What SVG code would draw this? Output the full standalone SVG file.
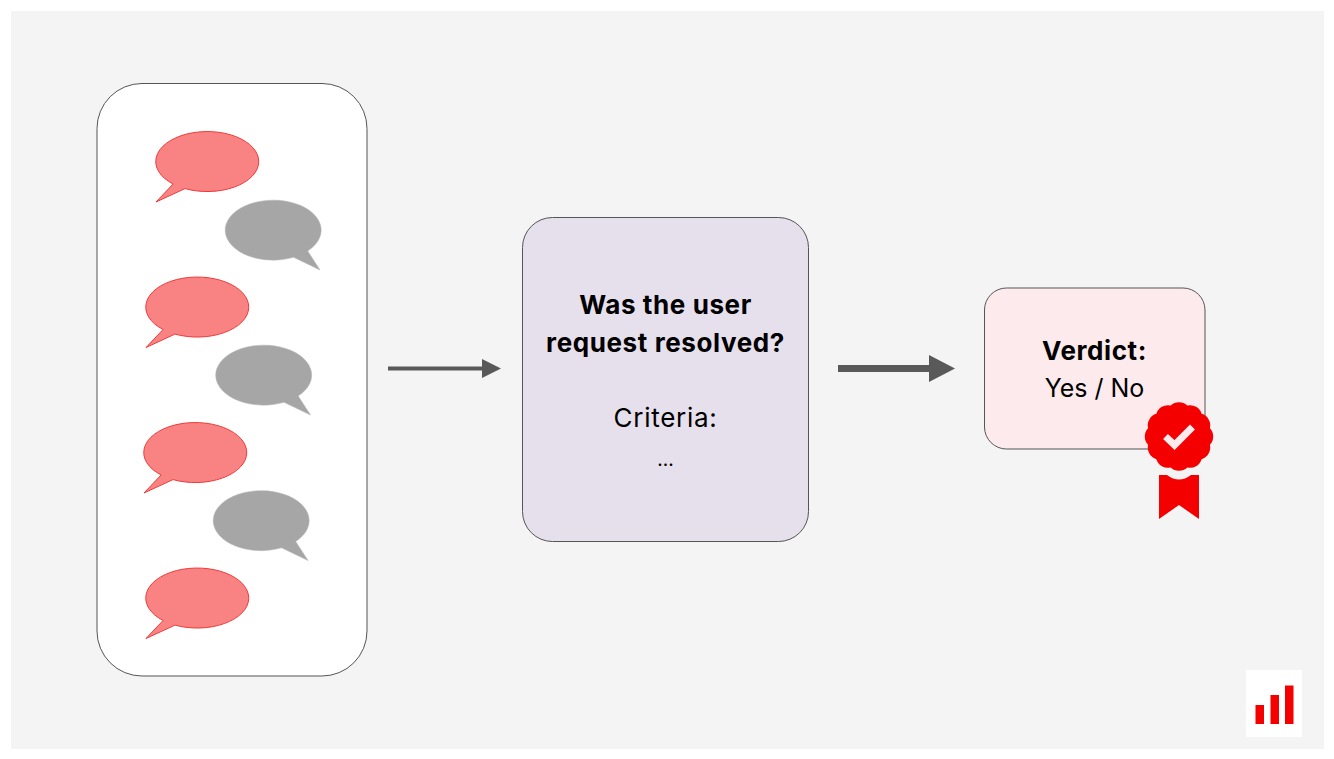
<svg xmlns="http://www.w3.org/2000/svg" width="1334" height="759" viewBox="0 0 1334 759">
<style>
.t{font-family:Inter,"Noto Sans","Liberation Sans",sans-serif;font-size:26px;fill:#000;text-anchor:middle}
.b{font-weight:700;letter-spacing:.6px}
.c{letter-spacing:.7px}
.card{stroke:#555;stroke-width:1}
.red{fill:#f98383;stroke:#f03a3a;stroke-width:1}
.gray{fill:#a6a6a6;stroke:#b4b4b4;stroke-width:.5}
.conn{fill:#595959;stroke:none}
.mark{fill:#f40000}
</style>
<defs>
<path id="rb" d="M-33.900 22.500 L-51 40.500 L-22 27.100 A51.500 30 0 1 0 -33.900 22.500 Z"/>
<path id="gb" d="M20 27.330 L46.500 40 L34.200 21 A48 30 0 1 0 20 27.330 Z"/>
</defs>
<rect width="1334" height="759" fill="#fff"/>
<rect x="11" y="11" width="1313" height="738" fill="#f4f4f4"/>
<g id="chat-panel">
<rect class="card" x="97" y="83.500" width="270" height="592.500" rx="45" fill="#fff"/>
<use href="#rb" class="red" x="207" y="161.500"/>
<use href="#gb" class="gray" x="273.500" y="230"/>
<use href="#rb" class="red" x="197" y="307"/>
<use href="#gb" class="gray" x="264" y="375"/>
<use href="#rb" class="red" x="195" y="452.500"/>
<use href="#gb" class="gray" x="261.500" y="520.500"/>
<use href="#rb" class="red" x="197" y="598"/>
</g>
<g id="connectors">
<path class="conn" d="M388 366.500H482V359L501 368.500L482 378V370.500H388Z"/>
<path class="conn" d="M838 365H929V355L955 368.500L929 382V372H838Z"/>
</g>
<g id="criteria-node">
<rect class="card" x="522.500" y="217.500" width="286" height="324" rx="30" fill="#e6dfec"/>
<text class="t b" x="665.500" y="314">Was the user</text>
<text class="t b" x="665.500" y="352">request resolved?</text>
<text class="t c" x="665.500" y="427">Criteria:</text>
<text class="t" x="665.500" y="466" style="font-size:19px">...</text>
</g>
<g id="verdict-node">
<rect class="card" x="984.500" y="288" width="220.500" height="161" rx="22" fill="#fdeaec"/>
<text class="t b" x="1094.500" y="359.500">Verdict:</text>
<text class="t" x="1094.500" y="397" style="font-size:25px">Yes / No</text>
</g>
<g id="badge">
<path class="mark" transform="translate(1179 436.500)" d="M30.910 8.280A12 12 0 0 1 22.630 22.630A12 12 0 0 1 8.280 30.910A12 12 0 0 1 -8.280 30.910A12 12 0 0 1 -22.630 22.630A12 12 0 0 1 -30.910 8.280A12 12 0 0 1 -30.910 -8.280A12 12 0 0 1 -22.630 -22.630A12 12 0 0 1 -8.280 -30.910A12 12 0 0 1 8.280 -30.910A12 12 0 0 1 22.630 -22.630A12 12 0 0 1 30.910 -8.280A12 12 0 0 1 30.910 8.280Z"/>
<path d="M1165.500 436.500L1174.500 445L1192.500 427" fill="none" stroke="#fdeaec" stroke-width="7"/>
<path class="mark" d="M1159 475H1167Q1179 484 1191 475H1199V519L1179 505L1159 519Z"/>
</g>
<g id="logo">
<rect x="1246" y="670" width="56" height="67" fill="#fff"/>
<rect class="mark" x="1255.500" y="705" width="8.500" height="19"/>
<rect class="mark" x="1270.500" y="695" width="8.500" height="29"/>
<rect class="mark" x="1285" y="685.500" width="8.500" height="38.500"/>
</g>
</svg>
